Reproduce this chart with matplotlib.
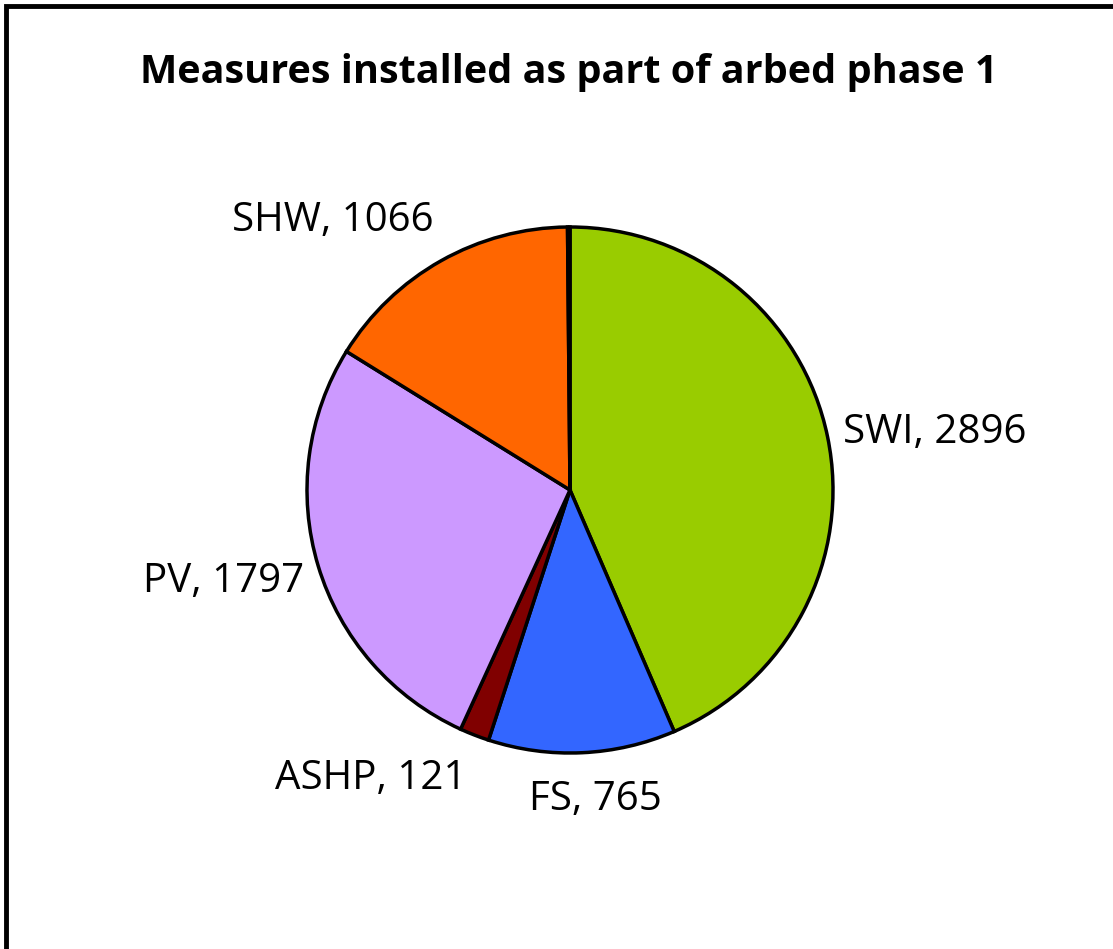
import matplotlib
matplotlib.use("Agg")
import matplotlib.pyplot as plt
import numpy as np
from matplotlib.patches import Rectangle

categories = ["SWI", "FS", "ASHP", "PV", "SHW", ""]
values = [2896, 765, 121, 1797, 1066, 10]
colors = ["#99CC00", "#3366FF", "#800000", "#CC99FF", "#FF6600", "#FFFFFF"]
title = "Measures installed as part of arbed phase 1"

W, H = 1113, 949
DPI = 100
fig = plt.figure(figsize=(W / DPI, H / DPI), dpi=DPI)
fig.patch.set_facecolor("white")

# outer chart frame (extends beyond the right/bottom edges)
fig.patches.append(Rectangle((6 / W, -0.1), 1.2, 1 - 6 / H + 0.1, transform=fig.transFigure,
                             fill=False, edgecolor="black", linewidth=3.5))

font = "Open Sans"
fig.text(569 / W, 1 - 72 / H, title, ha="center", va="center",
         fontsize=28.5, fontweight="bold", family=font)

cx, cy, r = 570, 490, 263
ax = fig.add_axes([(cx - r) / W, 1 - (cy + r) / H, 2 * r / W, 2 * r / H])
wedges, _ = ax.pie(values, colors=colors, startangle=90, counterclock=False,
                   wedgeprops=dict(edgecolor="black", linewidth=2.5))
ax.set_xlim(-1, 1)
ax.set_ylim(-1, 1)
ax.set_aspect("equal")
ax.axis("off")

# label placement: radial distance, alignment and pixel nudge per label
label_dist = [1.04, 1.19, 1.17, 1.06, 1.13]
label_ha = ["left", "center", "right", "right", "right"]
label_nudge = [(5, 2), (11, 3), (8, -2), (1, -11), (9, 10)]
total = sum(values)
start = 90.0
px2pt = 72 / DPI
for i, (c, v) in enumerate(zip(categories, values)):
    ang = start - 360 * v / total / 2
    start -= 360 * v / total
    if not c:
        continue
    a = np.deg2rad(ang)
    x, y = np.cos(a) * label_dist[i], np.sin(a) * label_dist[i]
    dx, dy = label_nudge[i]
    ax.annotate(f"{c}, {v}", (x, y), xytext=(dx * px2pt, dy * px2pt),
                textcoords="offset points", ha=label_ha[i], va="center",
                fontsize=29, family=font, annotation_clip=False)

fig.savefig("out.png", dpi=DPI)
